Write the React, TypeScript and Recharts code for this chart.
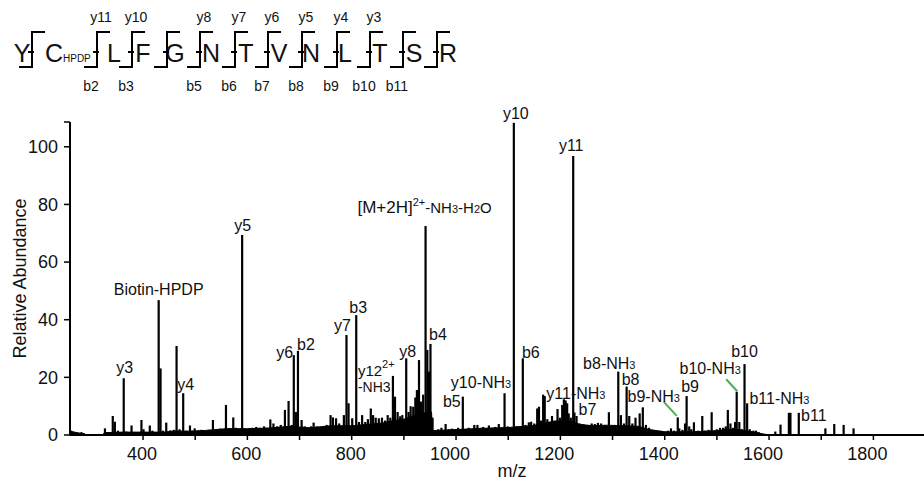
import React from 'react';
import { ComposedChart, Bar, Area, XAxis, YAxis, LabelList } from 'recharts';

const FONT = "'Liberation Sans', Arial, Helvetica, sans-serif";

// ---------- data ----------
// annotated fragment peaks: [m/z, relative abundance, label]
const LABELED_PEAKS: [number, number, string][] = [
  [363, 19.7, 'y3'],
  [430, 46.8, 'Biotin-HPDP'],
  [477, 14.5, 'y4'],
  [590, 69.4, 'y5'],
  [689, 27.7, 'y6'],
  [697, 29.2, 'b2'],
  [790, 34.7, 'y7'],
  [808.7, 41.6, 'b3'],
  [879, 20.5, 'y12(2+)-NH3'],
  [904.5, 26.6, 'y8'],
  [941.6, 72.5, '[M+2H](2+)-NH3-H2O'],
  [951, 31.6, 'b4'],
  [1013, 13.3, 'b5'],
  [1093, 14.5, 'y10-NH3'],
  [1110.8, 108.3, 'y10'],
  [1128, 26.6, 'b6'],
  [1206.7, 12.4, 'y11-NH3'],
  [1224.6, 96.8, 'y11'],
  [1227, 7.8, 'b7'],
  [1311, 22.0, 'b8-NH3'],
  [1327, 16.8, 'b8'],
  [1425, 6.1, 'b9-NH3'],
  [1442, 13.5, 'b9'],
  [1538, 15.0, 'b10-NH3'],
  [1553, 24.6, 'b10'],
  [1641, 7.7, 'b11-NH3'],
  [1657, 7.7, 'b11'],
];

// unlabeled peaks: [m/z, relative abundance]
const MINOR_PEAKS: [number, number][] = [
  [262, 1.5], [266, 1.2], [270, 0.8], [282, 1.0], [286, 0.7], [327, 2.3], [331, 1.0], [342, 6.6],
  [346, 4.6], [352, 1.5], [368, 1.2], [378, 3.3], [383, 1.0], [397, 5.2], [401, 2.0], [413, 3.3],
  [418, 1.5], [433.6, 23.1], [438, 1.5], [444.5, 4.3], [452, 1.6], [459, 1.8], [464.3, 30.9],
  [470, 2.0], [483, 1.5], [490, 3.3], [494, 1.5], [499, 2.3], [505, 1.5], [512, 1.8], [520, 1.5],
  [527, 1.8], [534, 5.2], [540, 2.0], [548, 2.2], [553, 2.0], [559, 10.4], [565, 2.4], [573, 6.1],
  [578, 2.5], [583, 2.0], [596, 2.0], [603, 2.2], [610, 2.5], [617, 2.8], [624, 2.5], [632, 3.0],
  [638, 2.5], [644, 5.4], [650, 4.0], [657, 3.0], [664, 3.5], [672, 8.7], [679, 11.8], [685, 3.5],
  [693, 8.0], [704, 5.2], [710, 3.0], [716, 2.5], [722, 3.0], [727, 4.3], [733, 3.0], [740, 2.8],
  [746, 3.0], [752, 3.5], [759.5, 6.9], [764, 6.1], [770, 5.8], [776, 4.0], [785, 6.9], [794, 11.0],
  [801, 5.8], [814, 4.5], [820, 6.9], [826, 4.5], [831, 5.5], [836.6, 9.2], [841, 6.9], [846, 6.0],
  [852, 5.8], [858, 6.0], [864, 5.0], [869, 6.9], [874, 6.0], [883, 13.3], [888, 8.0], [893, 6.5],
  [897, 6.9], [909, 8.0], [913, 10.0], [918, 9.8], [922, 13.0], [925, 15.6], [929, 26.0], [933, 11.6],
  [937, 14.0], [945, 29.5], [948, 22.0], [955, 6.0], [960, 1.5], [966, 2.0], [972, 2.5], [980, 3.8],
  [986, 2.0], [992, 2.2], [998, 1.8], [1004, 2.5], [1018, 2.0], [1024, 2.5], [1030, 2.0], [1035, 3.5],
  [1041, 3.5], [1047, 2.5], [1052, 2.8], [1058, 2.2], [1063, 3.3], [1069, 2.5], [1075, 2.8], [1082, 3.8],
  [1087, 2.5], [1099, 3.0], [1104, 2.5], [1116, 3.0], [1122, 2.8], [1133, 3.5], [1139.5, 4.4], [1144, 4.6],
  [1150, 4.0], [1155.6, 9.2], [1159, 9.8], [1163, 5.0], [1167, 14.0], [1170, 13.5], [1175, 5.5], [1179, 4.5],
  [1184, 6.6], [1189, 5.0], [1194.5, 9.0], [1199, 6.0], [1203.5, 10.4], [1210, 12.0], [1213, 11.0], [1216, 7.5],
  [1220, 6.0], [1231, 6.6], [1236, 4.0], [1242, 3.5], [1248, 3.0], [1254, 3.5], [1260, 4.0], [1266, 3.8],
  [1272, 4.2], [1278, 4.0], [1284, 3.5], [1289, 3.0], [1293, 7.9], [1298, 3.0], [1304, 3.5], [1316, 6.9],
  [1322, 4.0], [1332, 6.6], [1338, 4.0], [1344, 6.0], [1352, 7.5], [1358, 9.6], [1364, 3.5], [1370, 2.5],
  [1377, 1.8], [1384, 1.5], [1392, 1.5], [1400, 1.2], [1406, 1.5], [1412, 2.3], [1418, 1.5], [1428, 2.3],
  [1434, 1.8], [1439, 4.0], [1447, 3.0], [1451, 2.0], [1456, 4.4], [1464, 1.5], [1472, 6.6], [1477, 1.5],
  [1484, 1.8], [1490, 7.9], [1495, 1.5], [1500, 2.0], [1506, 2.5], [1512, 2.5], [1517, 3.0], [1521, 8.7],
  [1526, 4.0], [1531, 2.5], [1535, 4.5], [1543, 4.5], [1548, 2.0], [1558, 11.0], [1563, 2.0], [1570, 1.5],
  [1575, 1.5], [1580, 1.0], [1612, 1.2], [1622, 3.6], [1638, 7.7], [1708, 2.3], [1725, 3.8], [1743, 3.5],
  [1762, 2.3],
];

// dense low-level signal under the peaks: [m/z, level]
const NOISE_FLOOR: [number, number][] = [
  [260, 1.2], [275, 0.8], [288, 0.3], [292, 0], [322, 0], [326, 0.8], [360, 1.0], [400, 1.0],
  [440, 1.0], [460, 1.4], [490, 1.3], [520, 1.6], [560, 2.2], [600, 2.2], [640, 2.4], [680, 3.0],
  [720, 2.5], [760, 3.2], [800, 3.2], [830, 3.7], [860, 4.2], [880, 5.0], [900, 5.5], [915, 6.5],
  [930, 7.5], [953, 8.0], [955, 1.5], [1000, 1.9], [1050, 2.3], [1100, 2.6], [1150, 3.3], [1170, 4.2],
  [1190, 4.8], [1215, 5.0], [1235, 3.8], [1260, 3.2], [1290, 3.4], [1320, 3.2], [1350, 3.0], [1370, 1.9],
  [1400, 1.1], [1450, 1.1], [1500, 1.5], [1520, 2.0], [1545, 1.8], [1565, 1.2], [1585, 0.5], [1600, 0],
  [1897, 0],
];

const X_DOMAIN: [number, number] = [260, 1897];
const Y_MAX = 108.6;
const X_TICKS = [400, 500, 600, 700, 800, 900, 1000, 1100, 1200, 1300, 1400, 1500, 1600, 1700, 1800];
const Y_TICKS = [0, 20, 40, 60, 80, 100, Y_MAX];

// peptide sequence map
const RESIDUES = ['Y', 'C', 'L', 'F', 'G', 'N', 'T', 'V', 'N', 'L', 'T', 'S', 'R'];
const MODIFIED_RESIDUE = { index: 1, tag: 'HPDP' };
const Y_IONS_SEEN = [11, 10, 8, 7, 6, 5, 4, 3];
const B_IONS_SEEN = [2, 3, 5, 6, 7, 8, 9, 10, 11];

// ---------- layout / style ----------
const RESIDUE_X = [22, 54, 114, 143, 175, 211, 246, 279, 311, 345, 380, 414, 448];
const SITE_X = [32, 97, 132, 167, 200, 235, 268, 302, 337, 370, 403, 437];

type Lay = { dx: number; dy: number; anchor?: 'start' | 'middle'; leader?: [number, number, number, number] };
const LABEL_LAYOUT: Record<string, Lay> = {
  'y3': { dx: 1, dy: -5 },
  'Biotin-HPDP': { dx: 0, dy: -5 },
  'y4': { dx: 2.5, dy: -3 },
  'y5': { dx: 0.5, dy: -4 },
  'y6': { dx: -9, dy: 3 },
  'b2': { dx: 8, dy: -1 },
  'y7': { dx: -4, dy: -3.5 },
  'b3': { dx: 2, dy: -2.5 },
  'y12(2+)-NH3': { dx: -35, dy: 0, anchor: 'start' },
  'y8': { dx: 1.5, dy: -1 },
  '[M+2H](2+)-NH3-H2O': { dx: -1, dy: -13 },
  'b4': { dx: 7.5, dy: -4 },
  'b5': { dx: -11, dy: 10 },
  'y10-NH3': { dx: -23.5, dy: -5.7 },
  'y10': { dx: 2, dy: -4 },
  'b6': { dx: 8, dy: 0 },
  'y11-NH3': { dx: 12, dy: 0 },
  'y11': { dx: -2, dy: -5 },
  'b7': { dx: 13, dy: 2.5 },
  'b8-NH3': { dx: -9, dy: -2.3 },
  'b8': { dx: 4, dy: -1.6 },
  'b9-NH3': { dx: -24, dy: -15, leader: [-14, -15.5, -1, -1.5] },
  'b9': { dx: 3.5, dy: -4.4 },
  'b10-NH3': { dx: -26.5, dy: -17.8, leader: [-10.5, -12.5, 0.5, -0.5] },
  'b10': { dx: 0, dy: -7 },
  'b11-NH3': { dx: -11, dy: -9 },
  'b11': { dx: 15, dy: 8 },
};

const peakTable = [
  ...LABELED_PEAKS.map(([mz, intensity, label]) => ({ mz, intensity, label })),
  ...MINOR_PEAKS.map(([mz, intensity]) => ({ mz, intensity, label: '' })),
].sort((a, b) => a.mz - b.mz);

const floorTable = NOISE_FLOOR.map(([mz, floor]) => ({ mz, floor }));

// ---------- renderers ----------
const PeakShape = (p: any) => {
  const h = Math.max(0, p.height || 0);
  if (!h) return null;
  const cx = p.x + p.width / 2;
  return <rect x={cx - 1.1} y={p.y} width={2.2} height={h} fill="#000" />;
};

const richText = (label: string) => {
  if (label === '[M+2H](2+)-NH3-H2O') {
    return [
      <tspan key="a" fontSize={17}>[M+2H]</tspan>,
      <tspan key="b" fontSize={11} dy={-7}>2+</tspan>,
      <tspan key="c" fontSize={15} dy={7}>-NH</tspan>,
      <tspan key="d" fontSize={11}>3</tspan>,
      <tspan key="e" fontSize={15}>-H</tspan>,
      <tspan key="f" fontSize={11}>2</tspan>,
      <tspan key="g" fontSize={15}>O</tspan>,
    ];
  }
  if (label.endsWith('-NH3')) {
    return [
      <tspan key="a">{label.slice(0, -1)}</tspan>,
      <tspan key="b" fontSize={11}>3</tspan>,
    ];
  }
  return label;
};

const PeakLabel = (props: any) => {
  const value = props.value;
  if (!value) return null;
  const vb = props.viewBox || {};
  const bx = vb.x ?? props.x;
  const bw = vb.width ?? props.width ?? 0;
  const by = vb.y ?? props.y;
  if (bx == null || by == null) return null;
  const cx = bx + bw / 2;
  const lay = LABEL_LAYOUT[value] || { dx: 0, dy: -4 };
  const tx = cx + lay.dx;
  const ty = by + lay.dy;
  if (value === 'y12(2+)-NH3') {
    return (
      <g fontFamily={FONT} fill="#111">
        <text x={tx} y={ty} fontSize={15} textAnchor="start">
          y12<tspan fontSize={11} dy={-8}>2+</tspan>
        </text>
        <text x={tx} y={ty + 16} fontSize={14} textAnchor="start">-NH3</text>
      </g>
    );
  }
  return (
    <g>
      {lay.leader && (
        <line
          x1={cx + lay.leader[0]}
          y1={by + lay.leader[1]}
          x2={cx + lay.leader[2]}
          y2={by + lay.leader[3]}
          stroke="#4caf50"
          strokeWidth={2}
        />
      )}
      <text x={tx} y={ty} fontSize={16} fontFamily={FONT} fill="#111" textAnchor={lay.anchor || 'middle'}>
        {richText(value)}
      </text>
    </g>
  );
};

const XTick = (p: any) => {
  const v = p.payload?.value;
  if (v % 200 !== 0) return null;
  return (
    <text x={p.x + 14} y={p.y} dy="0.71em" textAnchor="end" fontSize={18} fontFamily={FONT} fill="#111">
      {v}
    </text>
  );
};

const YTick = (p: any) => {
  const v = p.payload?.value;
  if (v > 100) return null;
  return (
    <text x={p.x} y={p.y} dy="0.355em" textAnchor="end" fontSize={18} fontFamily={FONT} fill="#111">
      {v}
    </text>
  );
};

const SequenceMap = () => (
  <svg width={924} height={110} style={{ position: 'absolute', left: 0, top: 0, pointerEvents: 'none' }}>
    <g fontFamily={FONT} fill="#111">
      {RESIDUES.map((r, i) => (
        <text key={`r${i}`} x={RESIDUE_X[i]} y={62} fontSize={25} textAnchor="middle">
          {r}
        </text>
      ))}
      <text x={RESIDUE_X[MODIFIED_RESIDUE.index] + 9} y={62} fontSize={10}>
        {MODIFIED_RESIDUE.tag}
      </text>
      {SITE_X.map((x, i) => (
        <g key={`s${i}`} stroke="#000" strokeWidth={2} fill="none">
          <polyline points={`${x - 13},67 ${x},67 ${x},32 ${x + 13},32`} />
          <line x1={x - 4} y1={52} x2={x + 2} y2={52} />
        </g>
      ))}
      {Y_IONS_SEEN.map((n) => (
        <text key={`y${n}`} x={SITE_X[12 - n] + 4} y={22} fontSize={14} textAnchor="middle">
          {`y${n}`}
        </text>
      ))}
      {B_IONS_SEEN.map((n) => (
        <text key={`b${n}`} x={SITE_X[n - 1] - 6} y={91} fontSize={14} textAnchor="middle">
          {`b${n}`}
        </text>
      ))}
    </g>
  </svg>
);

export default function App() {
  return (
    <div style={{ position: 'absolute', left: 0, top: 0, width: 924, height: 483, overflow: 'hidden', background: '#fff' }}>
      <ComposedChart
        width={924}
        height={483}
        data={peakTable}
        margin={{ top: 122, right: 0, bottom: 0, left: 0 }}
      >
        <XAxis
          dataKey="mz"
          type="number"
          domain={X_DOMAIN}
          ticks={X_TICKS}
          interval={0}
          height={48}
          tickSize={5}
          tickMargin={7}
          axisLine={{ stroke: '#000', strokeWidth: 2 }}
          tickLine={{ stroke: '#000', strokeWidth: 1.5 }}
          tick={<XTick />}
          label={{
            value: 'm/z',
            position: 'insideBottom',
            offset: 6,
            dx: 15,
            style: { fontSize: 18, fontFamily: FONT, fill: '#111' },
          }}
        />
        <YAxis
          type="number"
          domain={[0, Y_MAX]}
          ticks={Y_TICKS}
          interval={0}
          width={70}
          tickSize={6}
          tickMargin={6}
          axisLine={{ stroke: '#000', strokeWidth: 2 }}
          tickLine={{ stroke: '#000', strokeWidth: 1.5 }}
          tick={<YTick />}
          label={{
            value: 'Relative Abundance',
            angle: -90,
            position: 'insideLeft',
            offset: 20,
            style: { fontSize: 18, fontFamily: FONT, fill: '#111', textAnchor: 'middle' },
          }}
        />
        <Area
          data={floorTable}
          dataKey="floor"
          type="linear"
          stroke="#000"
          strokeWidth={1}
          fill="#000"
          fillOpacity={1}
          dot={false}
          activeDot={false}
          isAnimationActive={false}
        />
        <Bar dataKey="intensity" barSize={2} shape={PeakShape} isAnimationActive={false}>
          <LabelList dataKey="label" content={PeakLabel} />
        </Bar>
      </ComposedChart>
      <SequenceMap />
    </div>
  );
}
